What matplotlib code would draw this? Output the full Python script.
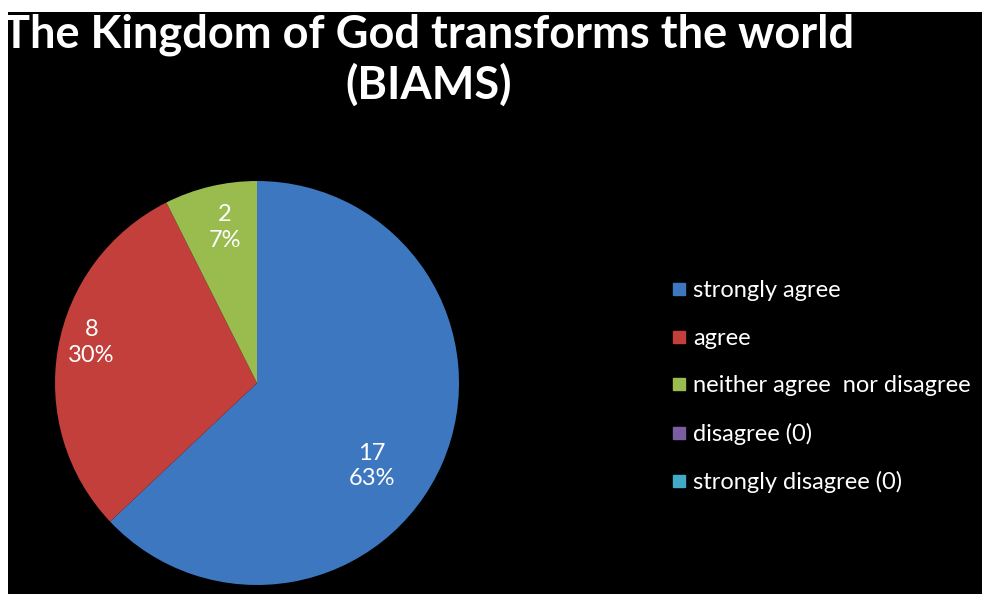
import matplotlib
matplotlib.use("Agg")
import matplotlib.pyplot as plt
from matplotlib.patches import Rectangle
from matplotlib.lines import Line2D

# Data
categories = ["strongly agree", "agree", "neither agree  nor disagree",
              "disagree (0)", "strongly disagree (0)"]
counts = [17, 8, 2, 0, 0]
colors = ["#3D77C0", "#C23F3B", "#9ABB4E", "#7B5EA0", "#42AAC6"]
title = "The Kingdom of God transforms the world\n(BIAMS)"

# Lato is the closest installed match to Calibri
plt.rcParams["font.family"] = ["Lato", "DejaVu Sans"]

fig = plt.figure(figsize=(9.82, 5.94), dpi=100)
fig.patch.set_facecolor("white")
# black panel with a thin white margin at top/left
fig.patches.append(Rectangle((8 / 982, 0), 1, 1 - 12 / 594, transform=fig.transFigure,
                             facecolor="black", edgecolor="none", zorder=-5))

ttl = fig.text(429 / 982, 1 - 60 / 594, title, ha="center", va="center", color="white",
               fontsize=32.5, fontweight="bold", linespacing=1.2)

# pie axes, sized so the circle is about 404 px across
ax = fig.add_axes([55 / 982, 9 / 594, 404 / 982, 404 / 594])
ax.set_facecolor("none")
total = sum(counts)


def fmt(pct):
    n = int(round(pct * total / 100.0))
    return f"{n}\n{pct:.0f}%" if n > 0 else ""


wedges, texts, autotexts = ax.pie(
    counts, colors=colors, startangle=90, counterclock=False,
    autopct=fmt, pctdistance=0.78, radius=1,
    wedgeprops=dict(edgecolor="none"),
    textprops=dict(color="white", fontsize=17, linespacing=1.25),
)
ax.set_xlim(-1, 1)
ax.set_ylim(-1, 1)
ax.set_aspect("equal")
ax.axis("off")

# the blue label sits a bit lower and further in than the wedge middle
autotexts[0].set_position((0.57, -0.41))
autotexts[1].set_position((-0.82, 0.2))
autotexts[2].set_position((-0.16, 0.77))

handles = [Line2D([], [], marker="s", linestyle="none", markersize=9,
                  markerfacecolor=c, markeredgecolor=c) for c in colors]
leg = fig.legend(handles, categories, loc="upper left",
                 bbox_to_anchor=(660 / 982, 1 - 271 / 594), frameon=False,
                 fontsize=17, labelspacing=1.12, handletextpad=0.2,
                 handlelength=0.8, borderaxespad=0)
for t in leg.get_texts():
    t.set_color("white")

fig.savefig("out.png", dpi=100, facecolor=fig.get_facecolor())
